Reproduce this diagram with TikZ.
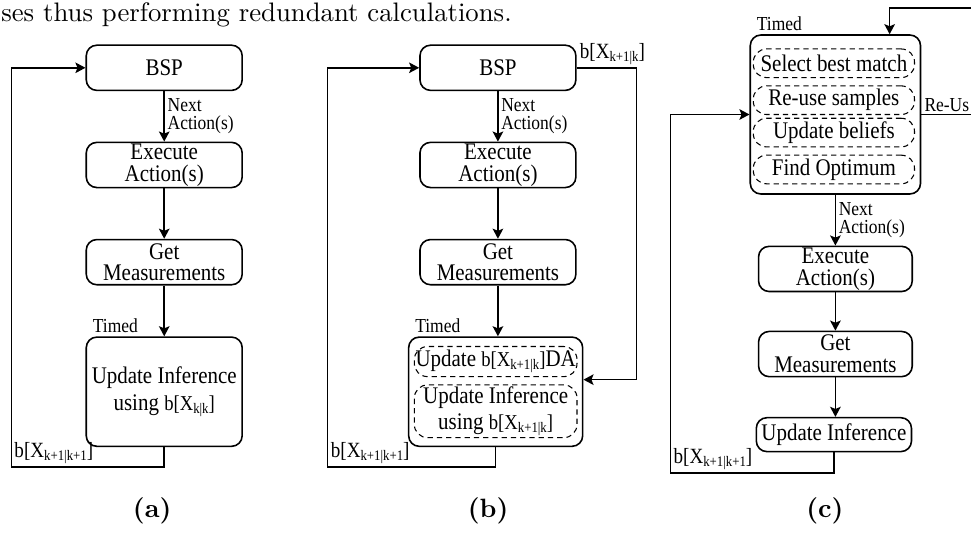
\documentclass[tikz,border=0pt]{standalone}
\usepackage{fontspec}
\usepackage{tikz}
\usetikzlibrary{arrows.meta,positioning}
\newfontfamily\dgfont[FakeStretch=0.88]{Liberation Serif}
\newcommand{\blf}[1]{b[X\raisebox{-0.3ex}{\fontsize{5.5}{5.5}\selectfont #1}]}

\begin{document}
\begin{tikzpicture}[
    proc/.style={draw, semithick, rounded corners=4pt, minimum width=2.07cm, minimum height=0.6cm, inner sep=0pt, align=center, font=\dgfont\fontsize{9}{8.2}\selectfont},
    subbox/.style={draw, thin, dash pattern=on 2pt off 1.5pt, rounded corners=5pt, minimum width=2.14cm, minimum height=0.38cm, inner sep=0pt, align=center, font=\dgfont\fontsize{9}{9}\selectfont},
    lab/.style={inner sep=1pt, align=left, font=\dgfont\fontsize{7.5}{6.8}\selectfont},
    blab/.style={inner sep=1pt, font=\dgfont\fontsize{8.2}{8.2}\selectfont},
    arr/.style={semithick, -{Stealth[length=3.8pt, width=4pt, inset=0.8pt]}}]
    \useasboundingbox (0,0) rectangle (12.89,-7.19);
    \node[anchor=base west, inner sep=0pt, font=\fontsize{10.1}{12}\selectfont] (txt) at (0.01,-0.28) {ses thus performing redundant calculations.};

    % (a)
    \node[proc] (bspA) at (2.18,-0.90) {BSP};
    \node[proc] (exA) at (2.18,-2.19) {Execute\\Action(s)};
    \node[proc] (msA) at (2.18,-3.48) {Get\\Measurements};
    \node[proc, minimum height=1.45cm] (upA) at (2.18,-5.20) {Update Inference\\[2pt]using {\fontsize{8}{8}\selectfont\blf{k|k}}};
    \coordinate (loopA) at (0.15,-6.20);

    \draw[arr] (bspA) -- node[lab, right] (naA) {Next\\Action(s)} (exA);
    \draw[arr] (exA) -- (msA);
    \draw[arr] (msA) -- (upA);
    \draw[arr] (upA.south) |- (loopA) |- (bspA.west);
    \node[lab, anchor=south west, xshift=1.6pt] (tmA) at (upA.north west) {Timed};
    \node[blab, anchor=south west] (bA) at (loopA) {\blf{k+1|k+1}};

    % (b)
    \node[proc] (bspB) at (6.61,-0.90) {BSP};
    \node[proc] (exB) at (6.61,-2.19) {Execute\\Action(s)};
    \node[proc] (msB) at (6.61,-3.48) {Get\\Measurements};
    \node[proc, minimum width=2.31cm, minimum height=1.45cm] (upB) at (6.58,-5.20) {};
    \node[subbox, minimum width=2.16cm, minimum height=0.40cm] (daB) at (6.58,-4.80) {Update {\fontsize{8}{8}\selectfont\blf{k+1|k}}DA};
    \node[subbox, minimum width=2.16cm, minimum height=0.70cm] (infB) at (6.58,-5.46) {Update Inference\\[1pt]using {\fontsize{8}{8}\selectfont\blf{k+1|k}}};
    \coordinate (loopB) at (4.35,-6.20);
    \coordinate (rB) at (8.45,-5.04);

    \draw[arr] (bspB) -- node[lab, right] (naB) {Next\\Action(s)} (exB);
    \draw[arr] (exB) -- (msB);
    \draw[arr] (msB.south) -- (msB.south |- upB.north);
    \draw[arr] (upB.south) |- (loopB) |- (bspB.west);
    \draw[arr] (bspB.east) -| (rB) -- (upB.east |- rB);
    \node[lab, anchor=south west, xshift=1.6pt] (tmB) at (upB.north west) {Timed};
    \node[blab, anchor=south west] (bB) at (loopB) {\blf{k+1|k+1}};
    \node[blab, anchor=south west] (bB2) at (bspB.east) {\blf{k+1|k}};

    % (c)
    \node[proc, minimum width=2.26cm, minimum height=2.11cm] (plC) at (11.09,-1.52) {};
    \node[subbox] (selC) at (11.07,-0.84) {Select best match};
    \node[subbox] (reC) at (11.07,-1.33) {Re-use samples};
    \node[subbox] (blC) at (11.07,-1.76) {Update beliefs};
    \node[subbox] (optC) at (11.07,-2.25) {Find Optimum};
    \node[proc, minimum width=2.04cm] (exC) at (11.09,-3.57) {Execute\\Action(s)};
    \node[proc, minimum width=2.04cm] (msC) at (11.09,-4.70) {Get\\Measurements};
    \node[proc, minimum width=2.06cm, minimum height=0.45cm] (upC) at (11.07,-5.77) {Update Inference};
    \coordinate (loopC) at (8.90,-6.28);
    \coordinate (topC) at (12.89,-0.11);
    \coordinate (reuC) at (12.89,-1.52);

    \draw[arr] (plC) -- node[lab, right] (naC) {Next\\Action(s)} (exC);
    \draw[arr] (exC) -- (msC);
    \draw[arr] (msC.south) -- (msC.south |- upC.north);
    \draw[arr] (upC.south) |- (loopC) |- (plC.west);
    \draw[arr] (topC) -| ([xshift=0.72cm]plC.north);
    \draw[semithick] (plC.east) -- (reuC);
    \node[lab, anchor=south west, xshift=1.6pt] (tmC) at (plC.north west) {Timed};
    \node[lab, anchor=south west] (ruC) at (plC.east) {Re-Us};
    \node[blab, anchor=south west] (bC) at (loopC) {\blf{k+1|k+1}};

    % captions
    \node[font=\bfseries] (capA) at (2.02,-6.78) {(a)};
    \node[font=\bfseries] (capB) at (6.48,-6.78) {(b)};
    \node[font=\bfseries] (capC) at (10.95,-6.78) {(c)};
\end{tikzpicture}
\end{document}
